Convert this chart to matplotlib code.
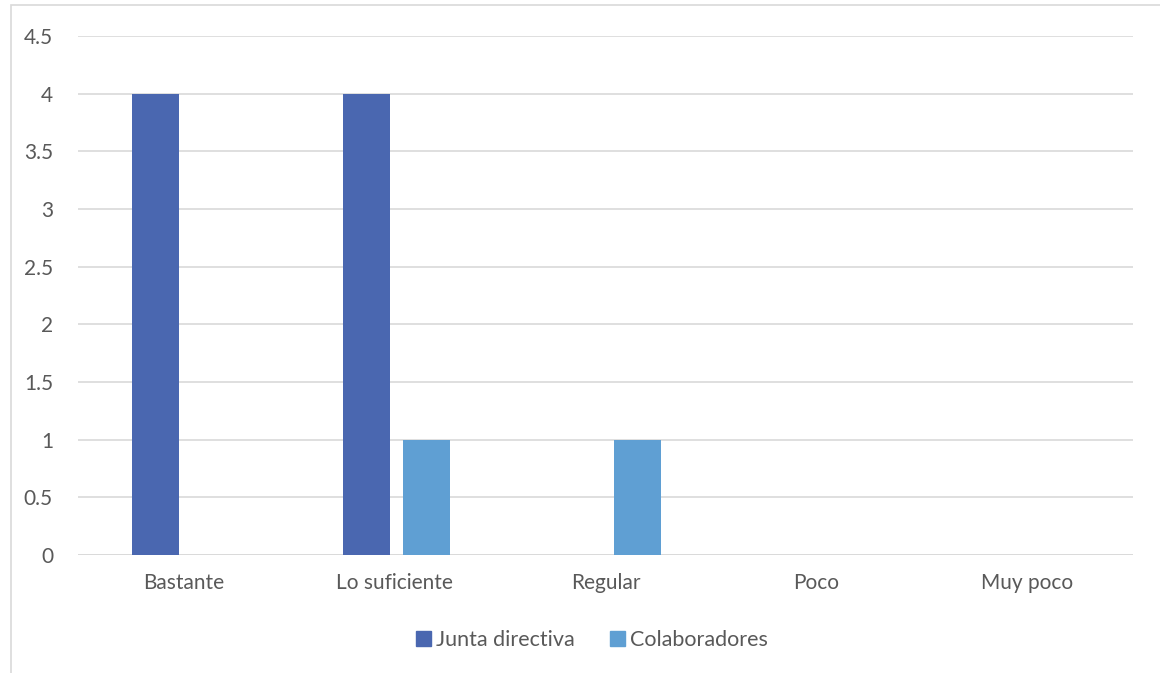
import numpy as np
import matplotlib.pyplot as plt
from matplotlib.patches import Rectangle

categories = ['Bastante', 'Lo suficiente', 'Regular', 'Poco', 'Muy poco']
junta = [4, 4, 0, 0, 0]
colaboradores = [0, 1, 1, 0, 0]
series_names = ['Junta directiva', 'Colaboradores']
colors = ['#4A67B0', '#5F9FD3']
yticks = [0, 0.5, 1, 1.5, 2, 2.5, 3, 3.5, 4, 4.5]

plt.rcParams['font.family'] = ['Lato', 'DejaVu Sans']
text_color = '#595959'

fig = plt.figure(figsize=(11.6, 6.73), dpi=100)
ax = fig.add_axes([78 / 1160, 1 - 555 / 673, (1133 - 78) / 1160, (555 - 36) / 673])

x = np.arange(len(categories))
width = 0.223
ax.bar(x - 0.1325, junta, width, color=colors[0], label=series_names[0], zorder=3)
ax.bar(x + 0.1515, colaboradores, width, color=colors[1], label=series_names[1], zorder=3)

ax.set_xlim(-0.5, len(categories) - 0.5)
ax.set_ylim(0, 4.5)
ax.set_yticks(yticks)
ax.set_yticklabels([f'{t:g}' for t in yticks])
ax.set_xticks(x)
ax.set_xticklabels(categories)
ax.tick_params(axis='both', length=0, labelsize=15, colors=text_color)
ax.tick_params(axis='y', pad=18)
ax.tick_params(axis='x', pad=13)
ax.grid(axis='y', color='#D9D9D9', linewidth=1.2, zorder=0)
for s in ax.spines.values():
    s.set_visible(False)
ax.axhline(0, color='#D9D9D9', linewidth=1.2, zorder=2)

# outer chart frame (partly cut off in the original)
fig.patches.append(Rectangle((10.5 / 1160, -0.1), 1.2, 1.1 - 5.5 / 673, transform=fig.transFigure,
                             fill=False, edgecolor='#D9D9D9', linewidth=1.2))

handles = [Rectangle((0, 0), 1, 1, color=c) for c in colors]
fig.legend(handles, series_names, loc='center', bbox_to_anchor=(592 / 1160, 1 - 640 / 673),
           ncol=2, frameon=False, fontsize=15.5, labelcolor=text_color,
           handlelength=0.7, handleheight=0.7, handletextpad=0.25, columnspacing=1.6)

fig.savefig('out.png', dpi=100)
